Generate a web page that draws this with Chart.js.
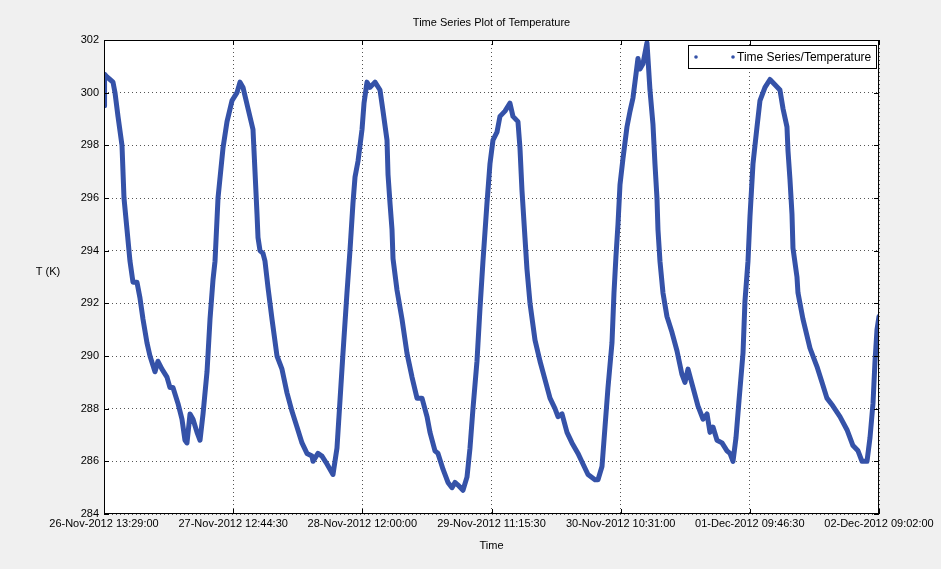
<!DOCTYPE html>
<html>
<head>
<meta charset="utf-8">
<title>Time Series Plot of Temperature</title>
<script src="https://cdn.jsdelivr.net/npm/chart.js@4.4.1/dist/chart.umd.min.js"></script>
<style>
  body { margin: 0; background: #f0f0f0; }
  #chart { display: block; }
</style>
</head>
<body>
<canvas id="chart" width="941" height="569"></canvas>
<script>
// Hours since 26-Nov-2012 13:29:00
const hours = [
    0, 0.1, 0.54, 1.08, 1.62, 1.98, 2.52, 3.24, 3.6, 4.14, 4.68, 5.22, 5.94, 6.48, 7.02, 7.74, 8.28, 9.18, 9.72, 10.44,
    11.34, 11.88, 12.42, 13.32, 14.04, 14.58, 14.94, 15.49, 16.03, 16.75, 17.29, 17.83, 18.55, 19.09, 19.63, 19.99,
    20.53, 21.43, 22.15, 23.05, 23.95, 24.49, 25.03, 25.93, 26.83, 27.19, 27.55, 27.73, 28.09, 28.63, 28.99, 29.53,
    30.25, 31.15, 32.05, 32.95, 33.85, 34.75, 35.65, 36.55, 37.45, 37.63, 38.53, 39.25, 40.15, 41.23, 41.95, 42.49,
    43.03, 43.75, 44.29, 44.83, 45.2, 45.74, 46.46, 46.82, 47.36, 47.9, 48.8, 49.7, 50.24, 50.96, 51.14, 51.5, 51.86,
    52.04, 52.76, 53.66, 54.56, 55.46, 56.36, 57.26, 58.16, 58.7, 59.6, 60.14, 61.04, 61.94, 62.66, 63.2, 63.74,
    64.64, 65.36, 65.9, 66.44, 67.16, 67.7, 68.24, 68.96, 69.5, 70.04, 70.76, 71.3, 72.2, 73.1, 73.64, 74.54, 74.9,
    75.26, 75.8, 76.16, 76.71, 77.61, 78.51, 79.41, 80.31, 81.21, 81.75, 82.47, 83.37, 84.27, 85.35, 86.25, 87.15,
    88.41, 88.95, 89.67, 90.21, 90.75, 91.47, 91.83, 92.19, 92.55, 92.91, 93.45, 94.17, 94.72, 95.25, 95.79, 96.15,
    96.51, 97.05, 97.77, 97.95, 98.31, 98.85, 99.21, 99.57, 99.75, 100.11, 100.65, 101.37, 102.27, 103.17, 104.07,
    104.61, 105.16, 106.06, 106.96, 107.86, 108.58, 109.12, 109.66, 110.38, 111.28, 112.18, 112.72, 113.26, 113.8,
    114.34, 115.06, 115.42, 115.96, 116.32, 116.86, 117.58, 118.12, 119.02, 119.92, 120.82, 121.72, 122.26, 122.98,
    123.16, 123.52, 123.88, 124.06, 124.78, 124.96, 125.86, 127.12, 128.38, 129.28, 130.18, 131.26, 132.52, 133.78,
    134.86, 135.77, 136.49, 137.39, 137.93, 138.47, 138.83, 139.19, 139.55
];

// Temperature in K
const temps = [
    299.5, 300.7, 300.6, 300.5, 300.4, 300.0, 299.1, 298.0, 296.0, 294.8, 293.6, 292.8, 292.8, 292.2, 291.4, 290.5, 290.0, 289.4, 289.8, 289.5,
    289.2, 288.8, 288.8, 288.2, 287.6, 286.8, 286.7, 287.8, 287.6, 287.1, 286.8, 287.8, 289.4, 291.4, 292.9, 293.6,
    296.0, 297.9, 298.9, 299.7, 300.0, 300.4, 300.2, 299.4, 298.6, 297.0, 295.4, 294.5, 294.0, 293.9, 293.6, 292.6,
    291.4, 290.0, 289.5, 288.6, 287.9, 287.3, 286.7, 286.3, 286.2, 286.0, 286.3, 286.2, 285.9, 285.5, 286.5, 288.3,
    290.1, 292.4, 294.0, 295.8, 296.8, 297.4, 298.6, 299.6, 300.4, 300.2, 300.4, 300.1, 299.3, 298.2, 296.9, 295.8, 294.8,
    293.7, 292.5, 291.4, 290.1, 289.2, 288.4, 288.4, 287.7, 287.1, 286.4, 286.3, 285.7, 285.2, 285.0, 285.2, 285.1,
    284.9, 285.4, 286.5, 288.0, 289.8, 291.8, 293.6, 295.8, 297.3, 298.2, 298.5, 299.1, 299.3, 299.6, 299.1, 298.9, 297.9,
    296.3, 294.5, 293.3, 292.0, 290.6, 289.8, 289.1, 288.4, 288.0, 287.7, 287.8, 287.1, 286.7, 286.3, 285.9, 285.5,
    285.3, 285.3, 285.8, 287.3, 288.8, 290.5, 292.4, 293.8, 295.0, 296.5, 297.5, 298.7, 299.3, 299.8, 300.7, 301.3,
    300.9, 301.1, 301.9, 301.3, 300.1, 298.8, 297.3, 296.0, 294.8, 293.6, 292.4, 291.5, 290.9, 290.2, 289.3,
    289.0, 289.5, 288.8, 288.1, 287.6, 287.8, 287.1, 287.3, 286.8, 286.7, 286.4, 286.3, 286.0, 286.9,
    288.3, 290.1, 292.1, 293.6, 295.3, 297.3, 298.7, 299.7, 300.2, 300.5, 300.3, 300.1, 299.4, 298.7,
    297.8, 296.7, 295.4, 294.1, 293.0, 292.4, 291.4, 290.3, 289.6, 289.0, 288.4, 288.1, 287.7, 287.2,
    286.6, 286.4, 286.0, 286.0, 286.9, 288.2, 289.8, 291.0, 291.5
];

// x tick positions (hours) and their labels
const tickHours = [0, 23.2583, 46.5167, 69.775, 93.0333, 116.2917, 139.55];
const tickLabels = [
    '26-Nov-2012 13:29:00', '27-Nov-2012 12:44:30', '28-Nov-2012 12:00:00', '29-Nov-2012 11:15:30',
    '30-Nov-2012 10:31:00', '01-Dec-2012 09:46:30', '02-Dec-2012 09:02:00'
];
const yTicks = [284, 286, 288, 290, 292, 294, 296, 298, 300, 302];

const FONT = 'Liberation Sans, Arial, Helvetica, sans-serif';
const BLUE = '#3552a8';

// draws the MATLAB look: grey figure, white axes, box, inward ticks, labels, legend
const matlabFrame = {
    id: 'matlabFrame',
    beforeDraw(chart) {
        const { ctx, chartArea: a } = chart;
        ctx.save();
        ctx.fillStyle = '#f0f0f0';
        ctx.fillRect(0, 0, chart.width, chart.height);
        ctx.fillStyle = '#ffffff';
        ctx.fillRect(a.left, a.top, a.right - a.left, a.bottom - a.top);
        ctx.restore();
    },
    afterDraw(chart) {
        const { ctx, chartArea: a } = chart;
        const xs = chart.scales.x, ys = chart.scales.y;
        ctx.save();
        ctx.strokeStyle = '#000';
        ctx.lineWidth = 1;
        ctx.strokeRect(a.left + 0.5, a.top + 0.5, a.right - a.left - 1, a.bottom - a.top - 1);

        // inward tick marks
        const len = 5;
        ctx.beginPath();
        tickHours.forEach(v => {
            const px = Math.round(xs.getPixelForValue(v)) + 0.5;
            ctx.moveTo(px, a.bottom); ctx.lineTo(px, a.bottom - len);
            ctx.moveTo(px, a.top); ctx.lineTo(px, a.top + len);
        });
        yTicks.forEach(v => {
            const py = Math.round(ys.getPixelForValue(v)) + 0.5;
            ctx.moveTo(a.left, py); ctx.lineTo(a.left + len, py);
            ctx.moveTo(a.right, py); ctx.lineTo(a.right - len, py);
        });
        ctx.stroke();

        // title and axis labels
        ctx.fillStyle = '#000';
        ctx.font = '11px ' + FONT;
        ctx.textAlign = 'center';
        ctx.textBaseline = 'middle';
        ctx.fillText('Time Series Plot of Temperature', (a.left + a.right) / 2, 23);
        ctx.fillText('Time', (a.left + a.right) / 2, 546);
        ctx.fillText('T (K)', 48, 272);

        // legend box
        const lx = 688, ly = 45, lw = 188, lh = 23;
        ctx.fillStyle = '#fff';
        ctx.fillRect(lx, ly, lw, lh);
        ctx.strokeRect(lx + 0.5, ly + 0.5, lw, lh);
        ctx.fillStyle = BLUE;
        [696, 733].forEach(cx => {
            ctx.beginPath();
            ctx.arc(cx, ly + lh / 2 + 0.5, 1.8, 0, Math.PI * 2);
            ctx.fill();
        });
        ctx.fillStyle = '#000';
        ctx.font = '12px ' + FONT;
        ctx.textAlign = 'left';
        ctx.fillText(chart.data.datasets[0].label, 737, ly + lh / 2 + 1);
        ctx.restore();
    }
};

new Chart(document.getElementById('chart'), {
    type: 'line',
    data: {
        datasets: [{
            label: 'Time Series/Temperature',
            data: hours.map((h, i) => ({ x: h, y: temps[i] })),
            borderColor: BLUE,
            backgroundColor: BLUE,
            borderWidth: 5,
            borderJoinStyle: 'round',
            borderCapStyle: 'round',
            pointRadius: 0,
            tension: 0
        }]
    },
    options: {
        responsive: false,
        animation: false,
        layout: { padding: { top: 40, right: 62, left: 0, bottom: 0 } },
        plugins: { legend: { display: false }, tooltip: { enabled: false }, title: { display: false } },
        scales: {
            x: {
                type: 'linear',
                min: 0,
                max: 139.55,
                afterBuildTicks: s => { s.ticks = tickHours.map(v => ({ value: v })); },
                afterFit: s => { s.height = 55; },
                ticks: {
                    autoSkip: false,
                    maxRotation: 0,
                    padding: 3,
                    color: '#000',
                    font: { family: FONT, size: 11 },
                    callback: (v, i) => tickLabels[i]
                },
                grid: { color: '#555', drawTicks: false },
                border: { display: false, dash: [1, 3] }
            },
            y: {
                min: 284,
                max: 302,
                afterFit: s => { s.width = 104; },
                ticks: {
                    stepSize: 2,
                    padding: 5,
                    color: '#000',
                    font: { family: FONT, size: 11 }
                },
                grid: { color: '#555', drawTicks: false },
                border: { display: false, dash: [1, 3] }
            }
        }
    },
    plugins: [matlabFrame]
});
</script>
</body>
</html>
